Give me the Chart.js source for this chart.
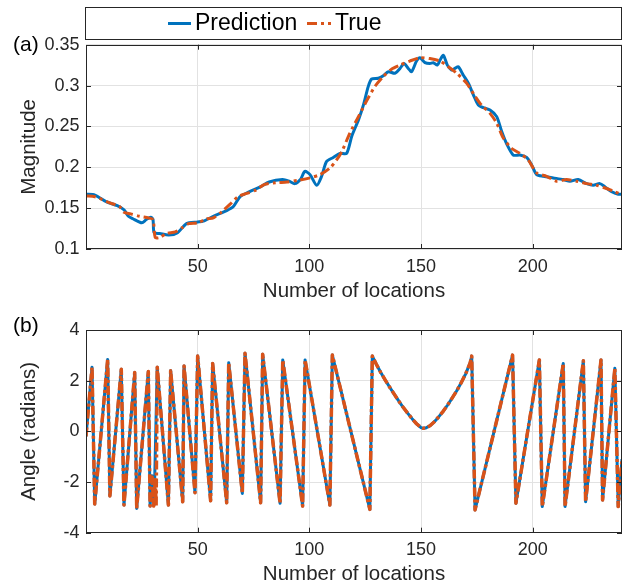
<!DOCTYPE html>
<html><head><meta charset="utf-8">
<script src="https://cdn.jsdelivr.net/npm/chart.js@4/dist/chart.umd.min.js"></script>
<style>
html,body{margin:0;padding:0;background:#fff;}
#wrap{position:relative;width:626px;height:587px;overflow:hidden;background:#fff;}
canvas{position:absolute;left:0;}
#c1{top:0;}
#c2{top:300px;}
</style></head><body>
<div id="wrap"><canvas id="c1" width="626" height="305"></canvas><canvas id="c2" width="626" height="287"></canvas></div>
<script>
// ---------- data ----------
const xTicks = [50, 100, 150, 200];
const xTickLabels = ['50', '100', '150', '200'];
const magTicks = [0.1, 0.15, 0.2, 0.25, 0.3, 0.35];
const magTickLabels = ['0.1', '0.15', '0.2', '0.25', '0.3', '0.35'];
const angTicks = [-4, -2, 0, 2, 4];
const angTickLabels = ['-4', '-2', '0', '2', '4'];
const seriesNames = ['Prediction', 'True'];

const predMagX = [0,4,9,14,17,19,21,25,27,29,30,30.5,33,37,41,45,50,52.5,57,63,66,69,73,78,82,88,91,93.5,96,98,100.3,103.3,105.5,107.7,110.7,113.7,116.7,119,122,124.2,126.4,127.9,130.9,133.1,135.4,138.3,140.6,142.4,144.3,145.8,148,149.5,151.8,154,155.5,157.3,158.5,160,161.8,163.7,165.2,166.7,168.9,171.2,173.4,175.7,177.9,180.9,183.9,186.1,188.3,191.3,194.3,197.3,199.5,201.8,204.8,209.2,213.7,216.7,220.4,224.2,227.1,230.1,232.4,235.4,238.3,240];
const predMag = [0.167,0.166,0.158,0.153,0.148,0.140,0.137,0.132,0.136,0.139,0.136,0.120,0.119,0.117,0.120,0.131,0.133,0.134,0.140,0.147,0.152,0.164,0.170,0.176,0.182,0.185,0.183,0.180,0.185,0.195,0.191,0.178,0.189,0.207,0.212,0.217,0.217,0.238,0.258,0.276,0.299,0.308,0.309,0.312,0.317,0.315,0.321,0.327,0.321,0.317,0.330,0.334,0.328,0.327,0.328,0.325,0.331,0.337,0.325,0.319,0.321,0.323,0.313,0.303,0.289,0.276,0.273,0.270,0.262,0.244,0.229,0.215,0.215,0.212,0.203,0.191,0.189,0.187,0.185,0.183,0.185,0.180,0.178,0.180,0.176,0.170,0.167,0.167];

const trueMagX = [0,4,10,15,17,20,24,28,30,31,33,36,40,43,46,50,54,57,61,65,68,72,76,80,85,90,95,100.3,104.8,109.2,112.2,114.5,118.2,122,125.6,129.4,133.1,136.8,140.6,145,149.5,154,158.5,162.2,166,170.4,174.2,177.1,180.9,183.9,186.8,190.6,194.3,198,201.8,206.2,210.7,215.2,219.7,224.2,228.6,233.1,236.9,240];
const trueMag = [0.165,0.164,0.157,0.152,0.145,0.143,0.140,0.138,0.136,0.114,0.114,0.119,0.121,0.126,0.131,0.132,0.137,0.138,0.146,0.156,0.164,0.168,0.172,0.179,0.181,0.182,0.184,0.187,0.191,0.199,0.209,0.219,0.242,0.262,0.281,0.299,0.311,0.320,0.325,0.330,0.334,0.333,0.330,0.323,0.315,0.303,0.287,0.276,0.266,0.254,0.236,0.223,0.217,0.209,0.193,0.189,0.183,0.185,0.183,0.180,0.178,0.174,0.170,0.166];

const predAngX = [0,2.7,3.9,9.7,10.7,15.8,17,21.8,22.7,27.9,28.7,29.6,30.5,31.9,36.9,37.9,43.3,43.9,48.8,50,55.8,56.7,63,63.9,70,71.2,78.2,79.1,86.9,88.1,97,98.1,109.2,110.3,127.1,128.2,130,132,134,136,138,140,142,144,146,148,150,151,152,154,156,158,160,162,164,166,168,170,172,172.7,174.2,191,192.5,203,204.3,213.7,214.5,222.7,223.7,230.6,231.3,236.8,238.3,240];
const predAng = [-0.2,2.53,-2.87,2.84,-2.55,2.45,-2.91,2.32,-3.04,2.36,-2.95,-1.75,-2.9,2.53,-2.91,2.39,-2.78,2.58,-2.42,2.97,-2.74,2.68,-2.82,2.71,-2.45,3.08,-2.82,3.04,-2.84,2.82,-2.95,2.82,-2.91,3.01,-3.08,2.97,2.65,2.32,2.02,1.74,1.47,1.2,0.95,0.72,0.5,0.3,0.15,0.12,0.13,0.22,0.38,0.58,0.8,1.05,1.32,1.6,1.92,2.27,2.7,2.97,-3.1,3.01,-2.84,2.82,-2.97,2.68,-2.97,2.79,-2.78,2.82,-2.71,2.49,-2.97,-1.1];
const trueAngX = [0,2.7,3.9,9.7,10.7,15.8,17,21.8,22.7,27.9,28.7,29.6,30.3,31,31.4,31.9,36.9,37.9,43.3,43.9,48.8,50,55.8,56.7,63,63.9,70,71.2,78.2,79.1,86.9,88.1,97,98.1,109.2,110.3,127.1,128.2,130,132,134,136,138,140,142,144,146,148,150,151,152,154,156,158,160,162,164,166,168,170,172,172.7,174.2,191,192.5,203,204.3,213.7,214.5,222.7,223.7,230.6,231.3,236.8,238.3,240];
const trueAng = [-0.2,2.53,-2.87,2.84,-2.55,2.45,-2.91,2.32,-3.04,2.36,-2.95,-1.8,-2.95,-1.9,-2.95,2.53,-2.91,2.39,-2.78,2.58,-2.42,2.97,-2.74,2.68,-2.82,2.71,-2.45,3.08,-2.82,3.04,-2.84,2.82,-2.95,2.82,-2.91,3.01,-3.08,2.97,2.65,2.32,2.02,1.74,1.47,1.2,0.95,0.72,0.5,0.3,0.15,0.12,0.13,0.22,0.38,0.58,0.8,1.05,1.32,1.6,1.92,2.27,2.7,2.97,-3.1,3.01,-2.84,2.82,-2.97,2.68,-2.97,2.79,-2.78,2.82,-2.71,2.49,-2.97,-1.1];

// ---------- styling ----------
const FONT = '"Liberation Sans", Arial, Helvetica, sans-serif';
const BLUE = '#0072BD', ORANGE = '#D95319', AX = '#262626', GRID = '#e2e2e2';
Chart.defaults.font.family = FONT;
Chart.defaults.color = AX;

const pts = (xs, ys) => xs.map((x, i) => ({x: x, y: ys[i]}));

const framePlugin = {
  id: 'frame',
  afterDraw(chart, args, o) {
    const {ctx, chartArea: a} = chart;
    const x = chart.scales.x, y = chart.scales.y;
    ctx.save();
    ctx.strokeStyle = AX; ctx.lineWidth = 1;
    ctx.beginPath();
    const tl = 5;
    x.ticks.forEach(t => { const p = Math.round(x.getPixelForValue(t.value)) + 0.5;
      ctx.moveTo(p, a.bottom); ctx.lineTo(p, a.bottom - tl); ctx.moveTo(p, a.top); ctx.lineTo(p, a.top + tl); });
    y.ticks.forEach(t => { const p = Math.round(y.getPixelForValue(t.value)) + 0.5;
      ctx.moveTo(a.left, p); ctx.lineTo(a.left + tl, p); ctx.moveTo(a.right, p); ctx.lineTo(a.right - tl, p); });
    ctx.stroke();
    ctx.strokeRect(Math.round(a.left) + 0.5, Math.round(a.top) + 0.5, Math.round(a.right - a.left) - 1, Math.round(a.bottom - a.top) - 1);
    ctx.fillStyle = '#000';
    ctx.font = '21px ' + FONT; ctx.textAlign = 'left'; ctx.textBaseline = 'middle';
    ctx.fillText(o.label, o.lx, o.ly);
    if (o.legend) {
      ctx.strokeStyle = AX; ctx.lineWidth = 1;
      ctx.strokeRect(85.5, 7.5, 536, 32);
      ctx.lineWidth = 3;
      ctx.strokeStyle = BLUE; ctx.beginPath(); ctx.moveTo(168, 23.5); ctx.lineTo(191, 23.5); ctx.stroke();
      ctx.strokeStyle = ORANGE; ctx.setLineDash([10, 4, 3, 4]); ctx.beginPath(); ctx.moveTo(307, 23.5); ctx.lineTo(331, 23.5); ctx.stroke();
      ctx.setLineDash([]);
      ctx.font = '23px ' + FONT; ctx.fillStyle = '#000';
      ctx.fillText(seriesNames[0], 195, 23.5);
      ctx.fillText(seriesNames[1], 335, 23.5);
    }
    ctx.restore();
  }
};

function makeChart(id, cfg) {
  return new Chart(document.getElementById(id), {
    type: 'line',
    data: {datasets: [
      {label: seriesNames[1], data: cfg.trueData, borderColor: ORANGE, borderWidth: cfg.lwTrue, borderDash: cfg.dash, borderJoinStyle: 'round', pointRadius: 0, tension: cfg.tension, order: 0},
      {label: seriesNames[0], data: cfg.predData, borderColor: BLUE, borderWidth: cfg.lwPred, borderJoinStyle: 'round', pointRadius: 0, tension: cfg.tension, order: 1}
    ]},
    options: {
      responsive: false, animation: false, devicePixelRatio: 1,
      layout: {padding: {top: cfg.padTop, right: 4, left: 0, bottom: 0}},
      plugins: {legend: {display: false}, tooltip: {enabled: false}, frame: cfg.frame},
      scales: {
        x: {type: 'linear', min: 0, max: 240,
          grid: {color: GRID, drawTicks: false, lineWidth: 1}, border: {display: false},
          afterBuildTicks: s => { s.ticks = xTicks.map(v => ({value: v})); },
          ticks: {padding: 7, font: {size: 18}, color: AX, maxRotation: 0, callback: (v, i) => xTickLabels[i]},
          title: {display: true, text: 'Number of locations', font: {size: 20.5}, color: AX, padding: {top: 0, bottom: cfg.titlePad}},
          afterFit: s => { s.height = cfg.xH; }
        },
        y: {type: 'linear', min: cfg.ymin, max: cfg.ymax,
          grid: {color: GRID, drawTicks: false, lineWidth: 1}, border: {display: false},
          afterBuildTicks: s => { s.ticks = cfg.yTicks.map(v => ({value: v})); },
          ticks: {padding: 6.5, font: {size: 18}, color: AX, callback: (v, i) => cfg.yLabels[i]},
          title: {display: true, text: cfg.yTitle, font: {size: 20.5}, color: AX, padding: {top: 17, bottom: 0}},
          afterFit: s => { s.width = 86; }
        }
      }
    },
    plugins: [framePlugin]
  });
}

makeChart('c1', {
  trueData: pts(trueMagX, trueMag), predData: pts(predMagX, predMag), lwTrue: 3, lwPred: 3, dash: [10, 4, 3, 4], tension: 0.25,
  padTop: 44.7, xH: 56, titlePad: 1.7, ymin: 0.1, ymax: 0.35, yTicks: magTicks, yLabels: magTickLabels, yTitle: 'Magnitude',
  frame: {label: '(a)', lx: 13, ly: 45, legend: true}
});
makeChart('c2', {
  trueData: pts(trueAngX, trueAng), predData: pts(predAngX, predAng), lwTrue: 3.5, lwPred: 3, dash: [9, 3, 3, 3], tension: 0,
  padTop: 30, xH: 54.3, titlePad: 0, ymin: -4, ymax: 4, yTicks: angTicks, yLabels: angTickLabels, yTitle: 'Angle (radians)',
  frame: {label: '(b)', lx: 13, ly: 26.7, legend: false}
});
</script>
</body></html>
